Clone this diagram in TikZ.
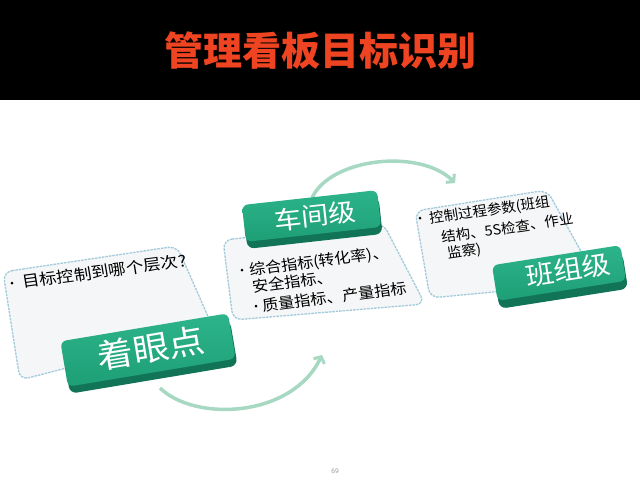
\documentclass[tikz,border=0pt]{standalone}
\usepackage{fontspec}
\newfontfamily\cjk{Noto Sans CJK SC}
\usetikzlibrary{arrows.meta}
\definecolor{titlered}{HTML}{EE4422}
\definecolor{btn}{HTML}{1E9F76}
\definecolor{btnlight}{HTML}{2DB48A}
\definecolor{btnside}{HTML}{127457}
\definecolor{boxfill}{HTML}{F5F6F7}
\definecolor{boxline}{HTML}{A2CADB}
\definecolor{arccol}{HTML}{A6D8C2}
\definecolor{pagegray}{HTML}{A0A0A0}
\begin{document}
\begin{tikzpicture}[x=1pt,y=1pt,
  panel/.style={draw=boxline, fill=boxfill, line width=1.3pt, dash pattern=on 2.5pt off 1pt, rounded corners=9pt},
  face/.style={rectangle, rounded corners=6pt, top color=btnlight, bottom color=btn, draw=none, inner sep=0pt},
  side/.style={rectangle, rounded corners=7pt, fill=btnside, draw=none, inner sep=0pt},
  btntext/.style={text=white, inner sep=0pt},
  bodytext/.style={font=\cjk\fontsize{15}{17}\selectfont, anchor=base west, inner sep=0pt, xscale=1.08},
  firsttext/.style={font=\cjk\fontsize{15.5}{17}\selectfont, anchor=base west, inner sep=0pt, xscale=1.13},
  smalltext/.style={font=\cjk\fontsize{14}{16}\selectfont, anchor=base west, inner sep=0pt, xscale=1.04},
  bullet/.style={circle, fill=black, inner sep=0pt, minimum size=3pt},
  flow/.style={draw=arccol, line width=3.5pt, -{Straight Barb[length=5pt,width=12pt,line width=3pt]}}
]
\useasboundingbox (0,0) rectangle (640,-480);
\fill[white] (0,0) rectangle (640,-480);
\fill[black] (0,0) rectangle (640,-100);

% title
\node[text=titlered, font=\cjk\bfseries\fontsize{39}{42}\selectfont, inner sep=0pt] (title) at (320,-51) {管理看板目标识别};

% panels
\coordinate (p1a) at (3,-272);
\coordinate (p1b) at (177,-246);
\coordinate (p1c) at (214,-330);
\coordinate (p1d) at (20,-380);
\draw[panel] (p1a) -- (p1b) -- (p1c) -- (p1d) -- cycle;

\coordinate (p2a) at (223,-240);
\coordinate (p2b) at (383,-223);
\coordinate (p2c) at (425,-304);
\coordinate (p2d) at (233,-320);
\draw[panel] (p2a) -- (p2b) -- (p2c) -- (p2d) -- cycle;

\coordinate (p3a) at (415,-211);
\coordinate (p3b) at (547,-190);
\coordinate (p3c) at (598,-282);
\coordinate (p3d) at (430,-298);
\draw[panel] (p3a) -- (p3b) -- (p3c) -- (p3d) -- cycle;

% panel texts
\node[bullet] (d1) at (12,-283) {};
\node[firsttext, rotate=8.5] (t1) at (23,-288) {目标控制到哪个层次?};

\node[bullet] (d2) at (242,-270) {};
\node[bodytext, rotate=8] (t2a) at (250,-276) {综合指标(转化率)、};
\node[bodytext, rotate=8] (t2b) at (253,-293) {安全指标、};
\node[bullet] (d3) at (256,-306) {};
\node[bodytext, rotate=8] (t2c) at (263,-312) {质量指标、产量指标};

\node[bullet] (d4) at (420,-218) {};
\node[smalltext, rotate=8.7] (t3a) at (430,-224) {控制过程参数(班组};
\node[smalltext, rotate=8.7] (t3b) at (442,-243) {结构、5S检查、作业};
\node[smalltext, rotate=8.7] (t3c) at (448,-259) {监察)};

% flow arcs
\coordinate (a1s) at (160,-388);
\coordinate (a1e) at (322,-355);
\draw[flow] (a1s) .. controls (195,-422) and (292,-418) .. (a1e);
\coordinate (a2s) at (312,-198);
\coordinate (a2e) at (455,-183);
\draw[flow] (a2s) .. controls (330,-158) and (420,-148) .. (a2e);

% buttons
\node[side, minimum width=170pt, minimum height=46pt, rotate=9.5] (b1s) at (150,-357) {};
\node[face, minimum width=170pt, minimum height=46pt, rotate=9.5] (b1) at (148,-350) {};
\node[btntext, font=\cjk\fontsize{33}{36}\selectfont, rotate=9.5, xscale=1.1] (b1t) at (151,-348) {着眼点};

\node[side, minimum width=136pt, minimum height=37pt, rotate=6.3] (b2s) at (313,-223) {};
\node[face, minimum width=136pt, minimum height=37pt, rotate=6.3] (b2) at (311.5,-216) {};
\node[btntext, font=\cjk\fontsize{25}{28}\selectfont, rotate=6.3, xscale=1.1] (b2t) at (315,-216) {车间级};

\node[side, minimum width=130pt, minimum height=36pt, rotate=8.9] (b3s) at (561,-281) {};
\node[face, minimum width=130pt, minimum height=36pt, rotate=8.9] (b3) at (559,-273) {};
\node[btntext, font=\cjk\fontsize{26}{29}\selectfont, rotate=8.9, xscale=1.1] (b3t) at (568,-270) {班组级};

% page number
\node[text=pagegray, font=\sffamily\fontsize{7}{8}\selectfont, inner sep=0pt] (pg) at (335,-471) {69};
\end{tikzpicture}
\end{document}
